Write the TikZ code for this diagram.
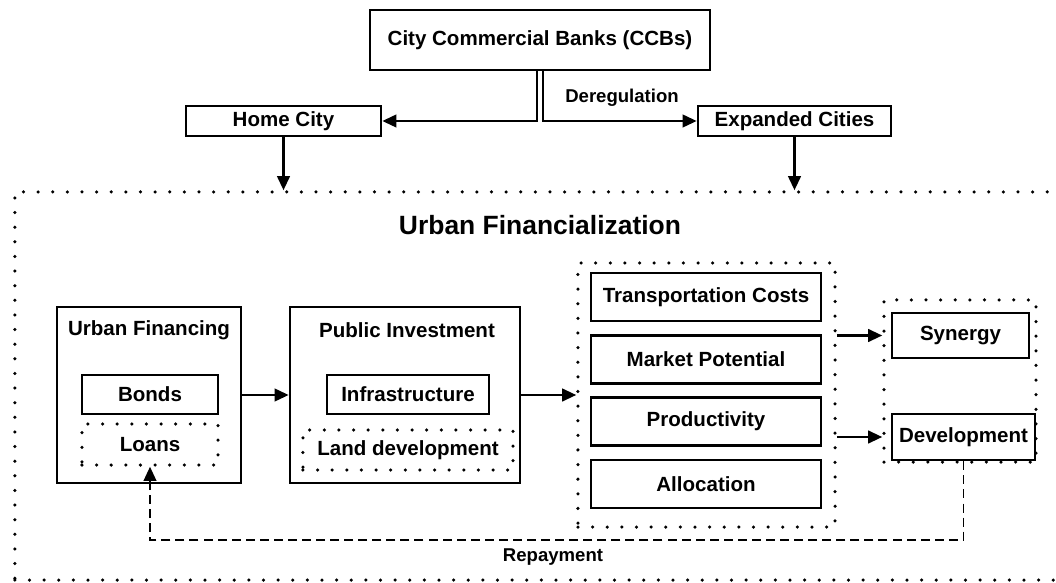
\documentclass[tikz,border=0pt]{standalone}
\usepackage{fontspec}
\setmainfont{Liberation Sans}
\usetikzlibrary{positioning, arrows.meta}

\begin{document}
\begin{tikzpicture}[
  x=0.025cm, y=-0.025cm,
  font=\fontsize{14.6}{17}\selectfont\bfseries,
  >={Triangle[length=10pt, width=9pt]},
  box/.style={draw, line width=1.9pt, inner sep=0pt},
  dotbox/.style={draw, line width=2.5pt, line cap=round, dash pattern=on 0pt off 10.4pt, inner sep=0pt},
  arr/.style={->, line width=1.6pt},
  ret/.style={->, line width=1.2pt, dash pattern=on 6.4pt off 3.6pt},
  ttl/.style={font=\fontsize{18.8}{22}\selectfont\bfseries},
  tag/.style={font=\fontsize{13.2}{15}\selectfont\bfseries},
  sz/.style 2 args={minimum width=#1cm, minimum height=#2cm},
]

\useasboundingbox (0,0) rectangle (1056,583);
\clip (0,0) rectangle (1056,583);

% ---- banks and the two city types ----
\node[box, sz={8.5}{1.5}] (ccb) at (540,40) {City Commercial Banks (CCBs)};
\node[box, sz={4.875}{0.75}] (home) at (283.5,121) {Home City};
\node[box, sz={4.825}{0.75}] (exp) at (794.5,121) {Expanded Cities};
\node[tag] (dereg) at (622,98) {Deregulation};

% ---- outer frame (runs past the right edge) ----
\node[dotbox, sz={26.875}{9.7}] (urban) at (552.5,386) {};
\node[ttl] (urbant) at (540,225) {Urban Financialization};

% ---- financing side ----
\node[box, sz={4.6}{4.4}] (uf) at (149,395) {};
\node (uft) at (149,330) {Urban Financing};
\node[box, sz={3.4}{0.975}] (bonds) at (150,394.5) {Bonds};
\node[dotbox, sz={3.4}{1.025}] (loans) at (150,444.5) {Loans};

\node[box, sz={5.75}{4.4}] (pi) at (405,395) {};
\node (pit) at (407,330) {Public Investment};
\node[box, sz={4.05}{0.975}] (infra) at (408,394.5) {Infrastructure};
\node[dotbox, sz={5.25}{1.0}] (land) at (408,450) {Land development};

% ---- channels ----
\node[dotbox, sz={6.425}{6.6}] (chan) at (706.5,395) {};
\node[box, sz={5.75}{1.2}] (trans) at (706,297) {Transportation Costs};
\node[box, sz={5.75}{1.2}] (market) at (706,359.5) {Market Potential};
\node[box, sz={5.75}{1.2}] (prod) at (706,421.5) {Productivity};
\node[box, sz={5.75}{1.2}] (alloc) at (706,484) {Allocation};

% ---- outcomes ----
\node[dotbox, sz={3.8}{4.05}] (outc) at (960,381) {};
\node[box, sz={3.425}{1.125}] (syn) at (960.5,335.5) {Synergy};
\node[box, sz={3.575}{1.15}] (dev) at (963.5,437) {Development};

% ---- connectors ----
\draw[arr] ([xshift=-2pt]ccb.south) |- (home.east);
\draw[arr] ([xshift=2pt]ccb.south) |- (exp.west);
\draw[arr] (home) -- (home |- urban.north);
\draw[arr] (exp) -- (exp |- urban.north);
\draw[arr] (uf) -- (pi);
\draw[arr] (pi) -- (chan);
\draw[arr] (chan.east |- syn) -- (outc.west |- syn);
\draw[arr] (chan.east |- dev) -- (outc.west |- dev);

% repayment loop back to loans
\coordinate (low) at (0,540);
\draw[ret] (dev.south) |- (low -| loans.south) -- (loans.south);
\node[tag] (repay) at (553,557) {Repayment};

\end{tikzpicture}
\end{document}
